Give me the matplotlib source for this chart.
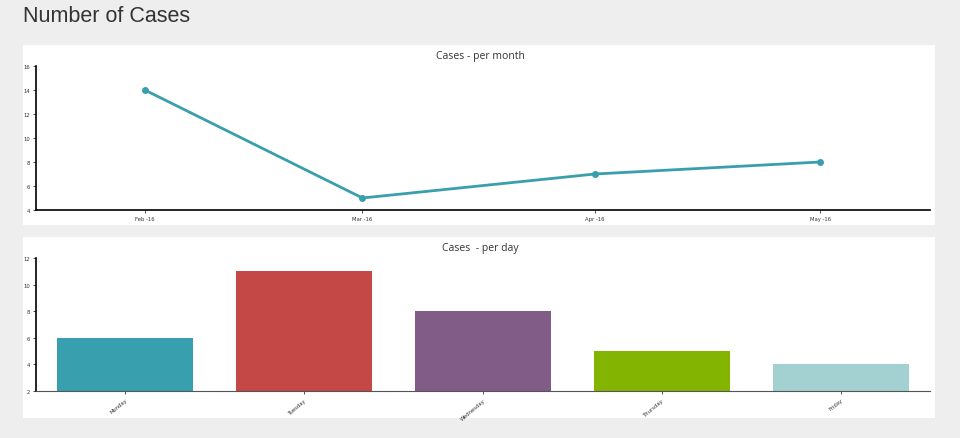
import matplotlib
matplotlib.use('Agg')
import matplotlib.pyplot as plt
import matplotlib.dates as mdates
from matplotlib.patches import Rectangle
import datetime as dt

# data
months = [dt.date(2016, 2, 1), dt.date(2016, 3, 1), dt.date(2016, 4, 1), dt.date(2016, 5, 1)]
month_cases = [14, 5, 7, 8]
days = ['Monday', 'Tuesday', 'Wednesday', 'Thursday', 'Friday']
day_cases = [6, 11, 8, 5, 4]
day_colors = ['#389fae', '#c34846', '#815c87', '#84b402', '#a3d0d0']

W, H = 960, 439
fig = plt.figure(figsize=(W / 100, H / 100), dpi=100)
fig.patch.set_facecolor('#eeeeee')

def fx(px):
    return px / W

def fy(py):
    return 1 - py / H

# white panels
for top, bottom in [(46, 226), (238, 419)]:
    fig.patches.append(Rectangle((fx(23), fy(bottom)), fx(912), (bottom - top) / H,
                                 transform=fig.transFigure, facecolor='white',
                                 edgecolor='none', zorder=-1))

fig.text(fx(23), fy(17), 'Number of Cases', fontsize=15.5, color='#333333',
         va='center', ha='left', family='Liberation Sans')

# line chart
ax1 = fig.add_axes([fx(36), fy(211), fx(930) - fx(36), (211 - 67) / H], zorder=2)
ax1.patch.set_alpha(0)
ax1.plot(months, month_cases, color='#3a9fad', linewidth=2, marker='o', markersize=4,
         clip_on=False)
ax1.set_xlim(dt.datetime(2016, 1, 17, 12), dt.datetime(2016, 5, 15, 15))
ax1.set_ylim(4, 16)
ax1.set_yticks(range(4, 17, 2))
ax1.xaxis.set_major_locator(mdates.MonthLocator(bymonthday=1))
ax1.xaxis.set_major_formatter(mdates.DateFormatter('%b -%y'))
fig.text(0.5, fy(57), 'Cases - per month', fontsize=7.5, color='#333333',
         ha='center', va='center', family='Open Sans')

# bar chart
ax2 = fig.add_axes([fx(36), fy(392), fx(930) - fx(36), (392 - 259) / H], zorder=2)
ax2.patch.set_alpha(0)
ax2.bar(days, day_cases, width=0.76, color=day_colors)
ax2.set_xlim(-0.5, len(days) - 0.5)
ax2.set_ylim(2, 12)
ax2.set_yticks(range(2, 13, 2))
plt.setp(ax2.get_xticklabels(), rotation=40, ha='right', rotation_mode='anchor')
fig.text(0.5, fy(249), 'Cases  - per day', fontsize=7.5, color='#333333',
         ha='center', va='center', family='Open Sans')

for ax in (ax1, ax2):
    ax.spines['top'].set_visible(False)
    ax.spines['right'].set_visible(False)
    ax.spines['left'].set_linewidth(1.2)
    ax.tick_params(labelsize=3.8, length=2.5, width=0.6, pad=2, colors='#333333')
ax1.spines['bottom'].set_linewidth(1.2)
ax2.spines['bottom'].set_color('#555555')

fig.savefig('out.png', dpi=100, facecolor=fig.get_facecolor())
